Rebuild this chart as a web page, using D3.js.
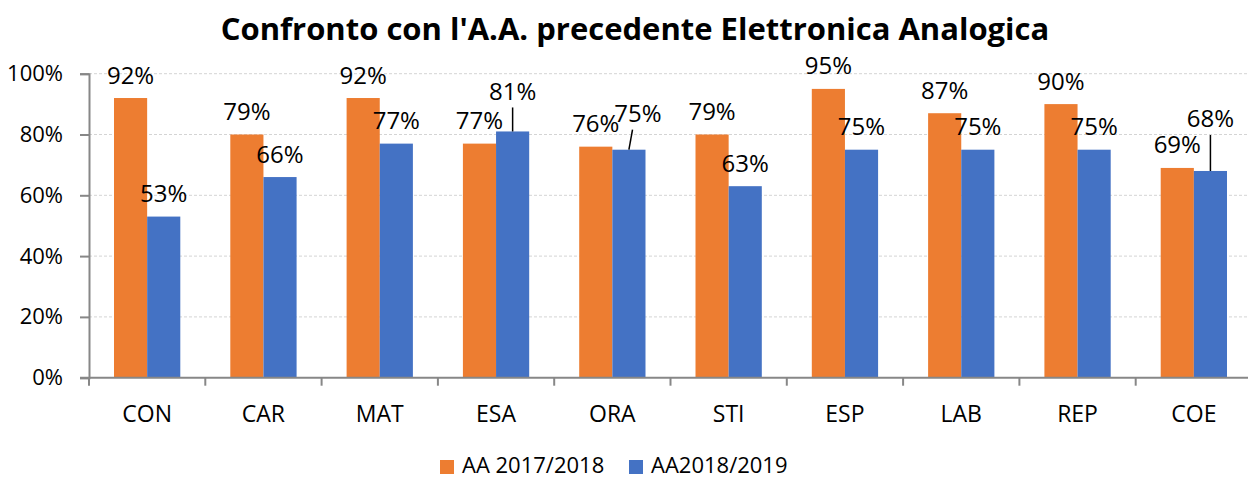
<!DOCTYPE html>
<html>
<head>
<meta charset="utf-8">
<script src="https://cdn.jsdelivr.net/npm/d3@7"></script>
<style>
  body { margin: 0; background: #fff; }
  svg { display: block; font-family: "Open Sans", sans-serif; }
</style>
</head>
<body>
<svg id="chart" width="1248" height="479"></svg>
<script>
// values
var categories = ["CON", "CAR", "MAT", "ESA", "ORA", "STI", "ESP", "LAB", "REP", "COE"];
var aa1718 = [0.92, 0.80, 0.92, 0.77, 0.76, 0.80, 0.95, 0.87, 0.90, 0.69];
var aa1819 = [0.53, 0.66, 0.77, 0.81, 0.75, 0.63, 0.75, 0.75, 0.75, 0.68];
var labels1718 = ["92%", "79%", "92%", "77%", "76%", "79%", "95%", "87%", "90%", "69%"];
var labels1819 = ["53%", "66%", "77%", "81%", "75%", "63%", "75%", "75%", "75%", "68%"];
var seriesNames = ["AA 2017/2018", "AA2018/2019"];
var yTicks = [0, 0.2, 0.4, 0.6, 0.8, 1.0];

var colors = ["#ED7D31", "#4472C4"];

// labels that were dragged away from the bar in the original (pixel nudges + leader line)
var nudges = {
  "ESA-1": { dx: 0, dy: -17, leader: true },
  "ORA-1": { dx: 9, dy: -13, leader: true },
  "COE-1": { dx: 0, dy: -29, leader: true }
};

var svg = d3.select("#chart");
var margin = { top: 74, left: 89, bottom: 101 };
var plotRight = 89 + 10 * 116.3;

var x = d3.scaleBand().domain(categories).range([margin.left, plotRight]).paddingInner(0.43).paddingOuter(0.215);
var xs = d3.scaleBand().domain([0, 1]).range([0, x.bandwidth()]);
var xTicks = d3.scaleBand().domain(categories).range([margin.left, plotRight]);
var y = d3.scaleLinear().domain([0, 1]).range([377.7, 73.7]);

// title
svg.append("text")
  .attr("x", 635).attr("y", 28)
  .attr("text-anchor", "middle")
  .attr("dominant-baseline", "central")
  .style("font-weight", "bold")
  .style("font-size", "31px")
  .text("Confronto con l'A.A. precedente Elettronica Analogica");

// gridlines
svg.append("g").selectAll("line")
  .data(yTicks.filter(function (d) { return d > 0; }))
  .enter().append("line")
  .attr("x1", margin.left).attr("x2", 1248)
  .attr("y1", function (d) { return y(d); })
  .attr("y2", function (d) { return y(d); })
  .attr("stroke", "#d4d4d4")
  .attr("stroke-width", 1)
  .attr("stroke-dasharray", "3,2");

// y axis
var yAxis = svg.append("g")
  .attr("transform", "translate(" + margin.left + ",0)")
  .call(d3.axisLeft(y).tickValues(yTicks).tickFormat(d3.format(".0%")).tickSize(9).tickPadding(17));
yAxis.select(".domain").attr("stroke", "#878787").attr("stroke-width", 2);
yAxis.selectAll(".tick line").attr("stroke", "#878787").attr("stroke-width", 2);
yAxis.selectAll(".tick text")
  .style("font-size", "22px")
  .style("font-family", "Open Sans")
  .attr("fill", "#000");

// bars
var series = [aa1718, aa1819];
var seriesLabels = [labels1718, labels1819];

series.forEach(function (vals, s) {
  svg.append("g").selectAll("rect")
    .data(vals)
    .enter().append("rect")
    .attr("x", function (d, i) { return x(categories[i]) + xs(s); })
    .attr("y", function (d) { return y(d); })
    .attr("width", xs.bandwidth())
    .attr("height", function (d) { return y(0) - y(d); })
    .attr("fill", colors[s]);
});

// x axis
var xAxisG = svg.append("g").attr("transform", "translate(0," + y(0) + ")");
xAxisG.append("line")
  .attr("x1", 80).attr("x2", 1248)
  .attr("stroke", "#878787").attr("stroke-width", 2);
xAxisG.selectAll("line.tk")
  .data(categories)
  .enter().append("line")
  .attr("class", "tk")
  .attr("x1", function (d) { return xTicks(d); })
  .attr("x2", function (d) { return xTicks(d); })
  .attr("y1", 0).attr("y2", 8)
  .attr("stroke", "#878787").attr("stroke-width", 2);
xAxisG.selectAll("text")
  .data(categories)
  .enter().append("text")
  .attr("x", function (d) { return x(d) + x.bandwidth() / 2; })
  .attr("y", 35)
  .attr("text-anchor", "middle")
  .attr("dominant-baseline", "central")
  .style("font-size", "23px")
  .text(function (d) { return d; });

// data labels
series.forEach(function (vals, s) {
  vals.forEach(function (v, i) {
    var n = nudges[categories[i] + "-" + s] || { dx: 0, dy: 0 };
    var cx = x(categories[i]) + xs(s) + xs.bandwidth() / 2;
    var ly = y(v) - 24 + n.dy;
    svg.append("text")
      .attr("x", cx + n.dx)
      .attr("y", ly)
      .attr("text-anchor", "middle")
      .attr("dominant-baseline", "central")
      .style("font-size", "24px")
      .attr("fill", "#000")
      .text(seriesLabels[s][i]);
    if (n.leader) {
      svg.append("line")
        .attr("x1", cx + n.dx * 0.4).attr("y1", ly + 17)
        .attr("x2", cx).attr("y2", y(v))
        .attr("stroke", "#000").attr("stroke-width", 1.5);
    }
  });
});

// legend
var legend = svg.append("g").attr("transform", "translate(440,464)");
var lx = [0, 189];
seriesNames.forEach(function (name, s) {
  legend.append("rect")
    .attr("x", lx[s]).attr("y", -4)
    .attr("width", 14).attr("height", 14)
    .attr("fill", colors[s]);
  legend.append("text")
    .attr("x", lx[s] + 22).attr("y", 0)
    .attr("dominant-baseline", "central")
    .style("font-size", "22px")
    .text(name);
});
</script>
</body>
</html>
